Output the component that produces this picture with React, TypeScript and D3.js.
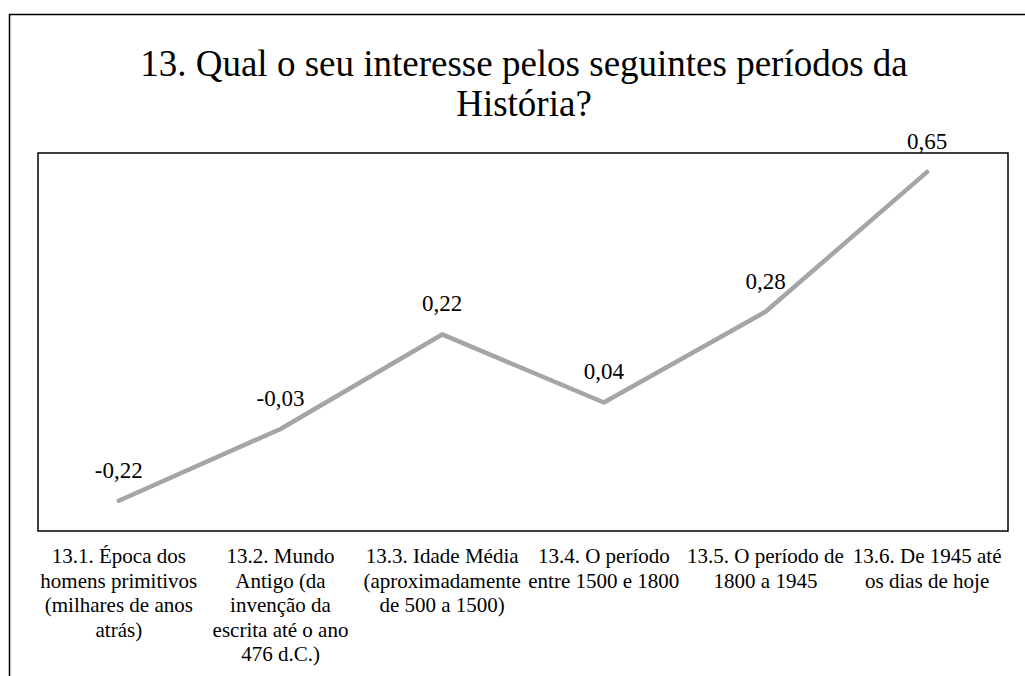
import React from 'react';
import * as d3 from 'd3';

// chart data
const categories = ['13.1', '13.2', '13.3', '13.4', '13.5', '13.6'];
const values = [-0.22, -0.03, 0.22, 0.04, 0.28, 0.65];
const categoryLines = [
  ['13.1. Época dos', 'homens primitivos', '(milhares de anos', 'atrás)'],
  ['13.2. Mundo', 'Antigo (da', 'invenção da', 'escrita até o ano', '476 d.C.)'],
  ['13.3. Idade Média', '(aproximadamente', 'de 500 a 1500)'],
  ['13.4. O período', 'entre 1500 e 1800'],
  ['13.5. O período de', '1800 a 1945'],
  ['13.6. De 1945 até', 'os dias de hoje'],
];
const titleLines = ['13. Qual o seu interesse pelos seguintes períodos da', 'História?'];
const yDomain = [-0.3, 0.7];

const W = 1025;
const H = 676;
const plot = { left: 38, top: 153, right: 1008, bottom: 531 };
const font = "Liberation Serif, DejaVu Serif";

const fmt = (v: number) => v.toFixed(2).replace('.', ',');

const App: React.FC = () => {
  const x = d3.scaleBand<string>()
    .domain(categories)
    .range([plot.left, plot.right]);

  const y = d3.scaleLinear()
    .domain(yDomain)
    .range([plot.bottom, plot.top]);

  const cx = (i: number) => (x(categories[i]) || 0) + x.bandwidth() / 2;

  const line = d3.line<number>()
    .x((_, i) => cx(i))
    .y(d => y(d));

  return (
    <svg
      width={W}
      height={H}
      style={{ position: 'absolute', left: 0, top: 0, display: 'block', background: '#fff' }}
    >
      {/* outer chart border, runs off the page right and bottom */}
      <rect x={9.5} y={14.5} width={1060} height={700} fill="none" stroke="#000" strokeWidth={1.5} />

      {titleLines.map((t, i) => (
        <text key={i} x={524} y={76 + i * 40} textAnchor="middle" fontSize={37} fill="#000" style={{ fontFamily: font }}>{t}</text>
      ))}

      <rect
        x={plot.left}
        y={plot.top}
        width={plot.right - plot.left}
        height={plot.bottom - plot.top}
        fill="none"
        stroke="#000"
        strokeWidth={1.5}
      />

      <path
        d={line(values) || ''}
        fill="none"
        stroke="#A5A5A5"
        strokeWidth={4.5}
        strokeLinecap="round"
        strokeLinejoin="round"
      />

      {values.map((v, i) => (
        <text key={i} x={cx(i)} y={y(v) - 23} textAnchor="middle" fontSize={23} fill="#000" style={{ fontFamily: font }}>{fmt(v)}</text>
      ))}

      {categoryLines.map((lines, i) => (
        <text key={i} x={cx(i)} y={plot.bottom + 32} textAnchor="middle" fontSize={21} fill="#000" style={{ fontFamily: font }}>
          {lines.map((l, j) => (
            <tspan key={j} x={cx(i)} dy={j === 0 ? 0 : 24.6}>{l}</tspan>
          ))}
        </text>
      ))}
    </svg>
  );
};

export default App;
